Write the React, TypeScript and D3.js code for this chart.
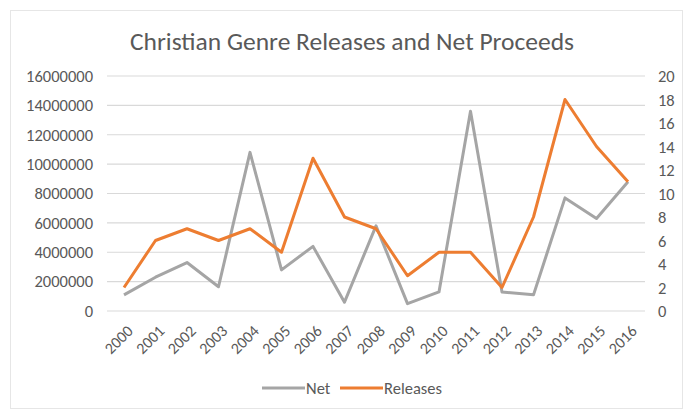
import React from 'react';
import * as d3 from 'd3';

const years = ['2000', '2001', '2002', '2003', '2004', '2005', '2006', '2007', '2008', '2009', '2010', '2011', '2012', '2013', '2014', '2015', '2016'];
const netValues = [1100000, 2300000, 3300000, 1650000, 10800000, 2800000, 4400000, 600000, 5800000, 500000, 1300000, 13600000, 1300000, 1100000, 7700000, 6300000, 8800000];
const releaseValues = [2, 6, 7, 6, 7, 5, 13, 8, 7, 3, 5, 5, 2, 8, 18, 14, 11];
const leftTicks = [0, 2000000, 4000000, 6000000, 8000000, 10000000, 12000000, 14000000, 16000000];
const rightTicks = [0, 2, 4, 6, 8, 10, 12, 14, 16, 18, 20];

const W = 687;
const H = 413;
const FONT = "Carlito, 'Open Sans', 'Noto Sans', sans-serif";
const TEXT = '#595959';
const GRAY = '#a5a5a5';
const ORANGE = '#ed7d31';

export default function App() {
  const plot = { left: 107, right: 645, top: 76, bottom: 311 };

  const x = d3.scalePoint<string>()
    .domain(years)
    .range([124, 628]);
  const yLeft = d3.scaleLinear().domain([0, 16000000]).range([plot.bottom, plot.top]);
  const yRight = d3.scaleLinear().domain([0, 20]).range([plot.bottom, plot.top]);

  const netLine = d3.line<number>()
    .x((_, i) => x(years[i]) as number)
    .y(d => yLeft(d));
  const relLine = d3.line<number>()
    .x((_, i) => x(years[i]) as number)
    .y(d => yRight(d));

  return (
    <svg width={W} height={H} style={{ position: 'absolute', left: 0, top: 0 }} fontFamily={FONT}>
      <rect x={0} y={0} width={W} height={H} fill="#fff" />
      <rect x={10.5} y={10.5} width={672} height={398} fill="none" stroke="#e6e6e6" />

      <text x={352} y={50} textAnchor="middle" fontSize={25.5} fill={TEXT}>
        Christian Genre Releases and Net Proceeds
      </text>

      {leftTicks.map(t => (
        <line key={'g' + t} x1={plot.left} x2={plot.right} y1={yLeft(t)} y2={yLeft(t)} stroke="#d9d9d9" strokeWidth={1.2} />
      ))}

      {leftTicks.map(t => (
        <text key={'l' + t} x={93} y={yLeft(t)} dy="0.35em" textAnchor="end" fontSize={16.5} fill={TEXT}>
          {t}
        </text>
      ))}

      {rightTicks.map(t => (
        <text key={'r' + t} x={658} y={yRight(t)} dy="0.38em" textAnchor="start" fontSize={16.5} fill={TEXT}>
          {t}
        </text>
      ))}

      {years.map(yr => (
        <text
          key={yr}
          transform={`translate(${(x(yr) as number) + 6},${plot.bottom + 17}) rotate(-45)`}
          textAnchor="end"
          dy="0.35em"
          fontSize={16}
          fill={TEXT}
        >
          {yr}
        </text>
      ))}

      <path d={netLine(netValues) ?? ''} fill="none" stroke={GRAY} strokeWidth={3} strokeLinejoin="round" />
      <path d={relLine(releaseValues) ?? ''} fill="none" stroke={ORANGE} strokeWidth={3} strokeLinejoin="round" />

      <g fontSize={16.5} fill={TEXT}>
        <line x1={262} x2={305} y1={388} y2={388} stroke={GRAY} strokeWidth={3} />
        <text x={306} y={388} dy="0.35em">Net</text>
        <line x1={340} x2={383} y1={388} y2={388} stroke={ORANGE} strokeWidth={3} />
        <text x={384} y={388} dy="0.35em">Releases</text>
      </g>
    </svg>
  );
}
